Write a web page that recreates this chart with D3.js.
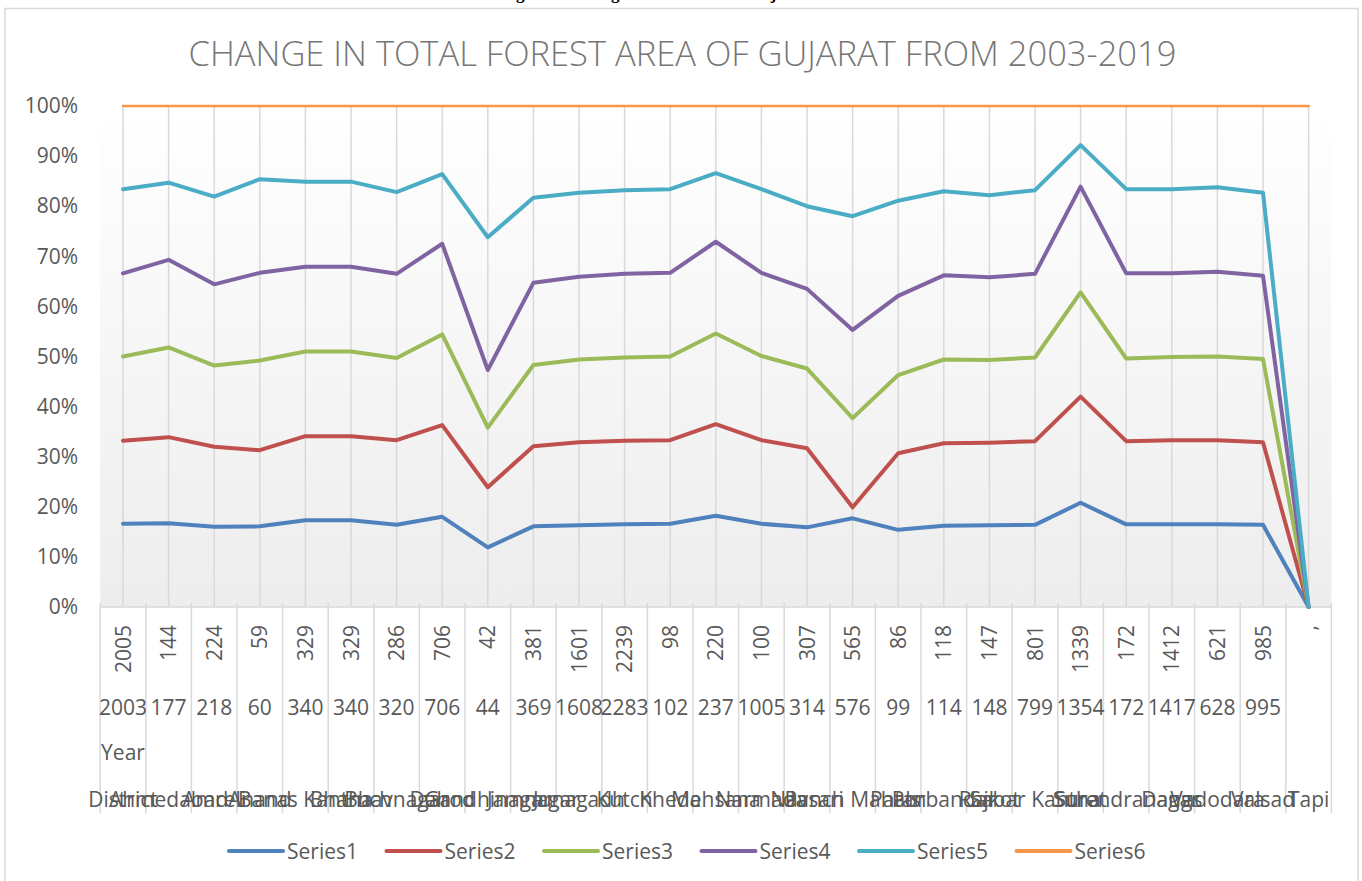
<!DOCTYPE html>
<html>
<head>
<meta charset="utf-8">
<script src="https://cdn.jsdelivr.net/npm/d3@7"></script>
<style>
  body { margin: 0; background: #fff; }
  text { font-family: 'Open Sans', sans-serif; }
</style>
</head>
<body>
<div id="container"></div>
<script>
const width = 1362;
const height = 881;

// category labels, one row per axis level
const rotatedLabels = ['2005', '144', '224', '59', '329', '329', '286', '706', '42', '381', '1601', '2239', '98',
    '220', '100', '307', '565', '86', '118', '147', '801', '1339', '172', '1412', '621', '985', ','];
const yearLabels = ['2003', '177', '218', '60', '340', '340', '320', '706', '44', '369', '1608', '2283', '102',
    '237', '1005', '314', '576', '99', '114', '148', '799', '1354', '172', '1417', '628', '995', ''];
const districts = ['District', 'Ahmedabad', 'Amreli', 'Anand', 'Banas Kantha', 'Bharuch', 'Bhavnagar', 'Dahod',
    'Gandhinagar', 'Jamnagar', 'Junagadh', 'Kutch', 'Kheda', 'Mehsana', 'Narmada', 'Navsari', 'Panch Mahals',
    'Patan', 'Porbandar', 'Rajkot', 'Sabar Kantha', 'Surat', 'Surendranagar', 'Dangs', 'Vadodara', 'Valsad', 'Tapi'];

// 100% stacked values (cumulative percent) per series
const series1 = [16.6, 16.7, 16.0, 16.1, 17.3, 17.3, 16.4, 18.0, 11.9, 16.1, 16.3, 16.5, 16.6, 18.2, 16.6, 15.9,
    17.7, 15.4, 16.2, 16.3, 16.4, 20.8, 16.5, 16.5, 16.5, 16.4, 0];
const series2 = [33.2, 33.9, 32.0, 31.3, 34.1, 34.1, 33.3, 36.3, 23.9, 32.1, 32.9, 33.2, 33.3, 36.5, 33.3, 31.7,
    19.9, 30.7, 32.7, 32.8, 33.1, 42.0, 33.1, 33.3, 33.3, 32.9, 0];
const series3 = [50.0, 51.8, 48.2, 49.2, 51.0, 51.0, 49.7, 54.4, 35.8, 48.3, 49.4, 49.8, 50.0, 54.6, 50.1, 47.6,
    37.7, 46.3, 49.4, 49.3, 49.8, 62.8, 49.6, 49.9, 50.0, 49.5, 0];
const series4 = [66.6, 69.3, 64.4, 66.7, 67.9, 67.9, 66.5, 72.5, 47.3, 64.7, 65.9, 66.5, 66.7, 72.9, 66.7, 63.5,
    55.3, 62.1, 66.2, 65.8, 66.5, 83.9, 66.6, 66.6, 66.9, 66.1, 0];
const series5 = [83.4, 84.7, 81.9, 85.4, 84.9, 84.9, 82.8, 86.4, 73.8, 81.7, 82.7, 83.2, 83.4, 86.6, 83.4, 80.0,
    78.0, 81.1, 83.0, 82.2, 83.2, 92.2, 83.4, 83.4, 83.8, 82.7, 0];
const series6 = [100, 100, 100, 100, 100, 100, 100, 100, 100, 100, 100, 100, 100, 100, 100, 100,
    100, 100, 100, 100, 100, 100, 100, 100, 100, 100, 100];

const seriesNames = ['Series1', 'Series2', 'Series3', 'Series4', 'Series5', 'Series6'];
const seriesColors = ['#4f81bd', '#c0504d', '#9bbb59', '#8064a2', '#4bacc6', '#f79646'];
const yTicks = [0, 10, 20, 30, 40, 50, 60, 70, 80, 90, 100];

const allSeries = [series1, series2, series3, series4, series5, series6];

const plotLeft = 100.2, plotRight = 1331.4, plotTop = 106, plotBottom = 607;

let svg = d3.select('#container').append('svg')
    .attr('width', width)
    .attr('height', height)
    .attr('viewBox', `0 0 ${width} ${height}`);

let x = d3.scaleBand()
    .domain(d3.range(districts.length))
    .range([plotLeft, plotRight])
    .padding(0);
let cx = i => x(i) + x.bandwidth() / 2;

let y = d3.scaleLinear()
    .domain([0, 100])
    .range([plotBottom, plotTop]);

// page caption, cut at the top of the screenshot
svg.append('text')
    .attr('x', 715)
    .attr('y', -1)
    .attr('text-anchor', 'middle')
    .style('font-family', "'Liberation Serif', serif")
    .style('font-weight', 'bold')
    .style('font-size', '17px')
    .attr('fill', '#000')
    .text('Figure 5: Change in Total Area of Gujarat From 2003-2019');

// chart frame
svg.append('rect')
    .attr('x', 5)
    .attr('y', 8.5)
    .attr('width', 1353)
    .attr('height', 900)
    .attr('fill', '#fff')
    .attr('stroke', '#d9d9d9')
    .attr('stroke-width', 1.5);

// plot area gradient
let grad = svg.append('defs').append('linearGradient')
    .attr('id', 'plotBg')
    .attr('x1', 0).attr('y1', 0).attr('x2', 0).attr('y2', 1);
grad.append('stop').attr('offset', '0%').attr('stop-color', '#ffffff');
grad.append('stop').attr('offset', '100%').attr('stop-color', '#ededed');

svg.append('rect')
    .attr('x', plotLeft)
    .attr('y', plotTop)
    .attr('width', plotRight - plotLeft)
    .attr('height', plotBottom - plotTop)
    .attr('fill', 'url(#plotBg)');

svg.append('text')
    .attr('x', 682.5)
    .attr('y', 66)
    .attr('text-anchor', 'middle')
    .style('font-size', '34.5px')
    .style('font-weight', 300)
    .attr('fill', '#767676')
    .text('CHANGE IN TOTAL FOREST AREA OF GUJARAT FROM 2003-2019');

// vertical gridlines through the points
svg.append('g')
    .attr('stroke', '#d9d9d9')
    .attr('stroke-width', 1.5)
    .selectAll('line')
    .data(districts.map((d, i) => i))
    .join('line')
    .attr('x1', d => cx(d))
    .attr('x2', d => cx(d))
    .attr('y1', plotTop)
    .attr('y2', plotBottom);

// category axis line and level dividers
svg.append('line')
    .attr('x1', plotLeft).attr('x2', plotRight)
    .attr('y1', plotBottom).attr('y2', plotBottom)
    .attr('stroke', '#d9d9d9')
    .attr('stroke-width', 1.5);

svg.append('g')
    .attr('stroke', '#d9d9d9')
    .attr('stroke-width', 1.5)
    .selectAll('line')
    .data(d3.range(districts.length + 1))
    .join('line')
    .attr('x1', k => plotLeft + k * x.step())
    .attr('x2', k => plotLeft + k * x.step())
    .attr('y1', plotBottom - 4)
    .attr('y2', 813);

// y axis
let yAxis = svg.append('g')
    .attr('transform', `translate(${plotLeft},0)`)
    .call(d3.axisLeft(y).tickValues(yTicks).tickFormat(d => d + '%').tickSize(0).tickPadding(22));
yAxis.select('.domain').remove();
yAxis.selectAll('text')
    .style('font-family', "'Open Sans', sans-serif")
    .style('font-size', '21px')
    .attr('fill', '#595959');

// category labels
let labels = svg.append('g')
    .attr('fill', '#595959')
    .style('font-size', '21px');

labels.selectAll('.rot')
    .data(rotatedLabels)
    .join('text')
    .attr('class', 'rot')
    .attr('text-anchor', 'end')
    .attr('transform', (d, i) => `translate(${cx(i) + 7.5},625) rotate(-90)`)
    .text(d => d);

labels.selectAll('.yr')
    .data(yearLabels)
    .join('text')
    .attr('class', 'yr')
    .attr('text-anchor', 'middle')
    .attr('x', (d, i) => cx(i))
    .attr('y', 715)
    .text(d => d);

labels.append('text')
    .attr('text-anchor', 'middle')
    .attr('x', cx(0))
    .attr('y', 760)
    .text('Year');

labels.selectAll('.dist')
    .data(districts)
    .join('text')
    .attr('class', 'dist')
    .attr('text-anchor', 'middle')
    .attr('x', (d, i) => cx(i))
    .attr('y', 807)
    .text(d => d);

// series lines
let line = d3.line()
    .x((d, i) => cx(i))
    .y(d => y(d));

svg.append('g')
    .attr('fill', 'none')
    .attr('stroke-linejoin', 'round')
    .attr('stroke-linecap', 'round')
    .selectAll('path')
    .data(allSeries)
    .join('path')
    .attr('stroke', (d, i) => seriesColors[i])
    .attr('stroke-width', (d, i) => i == 5 ? 2.5 : 4)
    .attr('d', d => line(d));

// legend
let legend = svg.append('g')
    .selectAll('g')
    .data(seriesNames)
    .join('g')
    .attr('transform', (d, i) => `translate(${229 + i * 157.5},851)`);

legend.append('line')
    .attr('x1', 0).attr('x2', 54)
    .attr('y1', 0).attr('y2', 0)
    .attr('stroke', (d, i) => seriesColors[i])
    .attr('stroke-width', 4)
    .attr('stroke-linecap', 'round');

legend.append('text')
    .attr('x', 58)
    .attr('y', 7.5)
    .style('font-size', '21px')
    .attr('fill', '#595959')
    .text(d => d);
</script>
</body>
</html>
